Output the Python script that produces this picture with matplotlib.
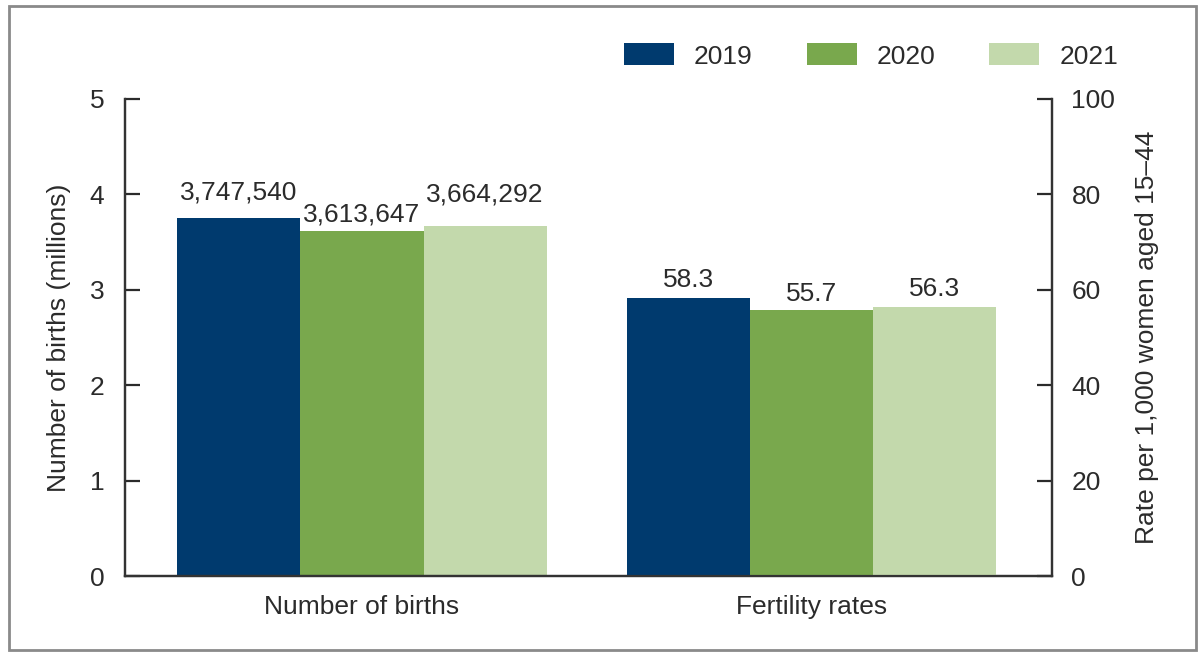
import matplotlib
matplotlib.use("Agg")
import matplotlib.pyplot as plt
from matplotlib.patches import Rectangle
import numpy as np

plt.rcParams['font.family'] = ['Liberation Sans', 'DejaVu Sans']

# Data
categories = ["Number of births", "Fertility rates"]
years = ["2019", "2020", "2021"]
births = [3747540, 3613647, 3664292]          # number of births
fertility_rates = [58.3, 55.7, 56.3]          # per 1,000 women aged 15-44
birth_labels = ["3,747,540", "3,613,647", "3,664,292"]
rate_labels = ["58.3", "55.7", "56.3"]
left_ticks = [0, 1, 2, 3, 4, 5]
right_ticks = [0, 20, 40, 60, 80, 100]

# Styling
colors = ["#003a6e", "#79a84d", "#c3d9ac"]
text_color = "#2b2b2b"
spine_color = "#333333"
fs = 19
bar_w = 0.274
offsets = [-bar_w, 0.0, bar_w]
birth_label_gap = [14, 7, 18]    # points above bar top (baseline)
rate_label_gap = [8, 7, 8]

W, H = 1198, 652
fig = plt.figure(figsize=(W / 100, H / 100), dpi=100)
fig.patch.set_facecolor("white")

ax = fig.add_axes([125 / W, 1 - 576 / H, (1052 - 125) / W, (576 - 99) / H])
ax2 = ax.twinx()

x = np.arange(len(categories))
for i, yr in enumerate(years):
    ax.bar(x[0] + offsets[i], births[i] / 1e6, width=bar_w, color=colors[i],
           label=yr, linewidth=0)
    ax2.bar(x[1] + offsets[i], fertility_rates[i], width=bar_w, color=colors[i],
            linewidth=0)
    ax.annotate(birth_labels[i], (x[0] + offsets[i], births[i] / 1e6),
                xytext=(0, birth_label_gap[i]), textcoords="offset points",
                ha="center", va="baseline", fontsize=fs, color=text_color)
    ax2.annotate(rate_labels[i], (x[1] + offsets[i], fertility_rates[i]),
                 xytext=(0, rate_label_gap[i]), textcoords="offset points",
                 ha="center", va="baseline", fontsize=fs, color=text_color)

ax.set_xlim(-0.527, 1.535)
ax.set_ylim(0, 5)
ax2.set_ylim(0, 100)
ax.set_yticks(left_ticks)
ax2.set_yticks(right_ticks)
ax.set_xticks(x)
ax.set_xticklabels(categories)

for a in (ax, ax2):
    a.spines["top"].set_visible(False)
    for s in ("left", "right", "bottom"):
        a.spines[s].set_color(spine_color)
        a.spines[s].set_linewidth(1.6)
    a.set_facecolor("none")

ax.tick_params(axis="y", direction="in", length=11, width=1.6, pad=15,
               labelsize=fs, colors=text_color)
ax2.tick_params(axis="y", direction="in", length=11, width=1.6, pad=14,
                labelsize=fs, colors=text_color)
ax.tick_params(axis="x", length=0, pad=14, labelsize=fs, colors=text_color)

ax.set_ylabel("Number of births (millions)", fontsize=fs, color=text_color)
ax2.set_ylabel("Rate per 1,000 women aged 15\u201344", fontsize=fs,
               color=text_color)
ax.yaxis.set_label_coords(-0.058, 0.5)
ax2.yaxis.set_label_coords(1.089, 0.5)

handles, labels = ax.get_legend_handles_labels()
leg = fig.legend(handles, labels, ncol=3, frameon=False, fontsize=fs,
                 loc="center right", bbox_to_anchor=(1118 / W, 1 - 56 / H),
                 handlelength=1.9, handleheight=0.9, handletextpad=0.75,
                 columnspacing=2.05, borderpad=0, borderaxespad=0)
for t in leg.get_texts():
    t.set_color(text_color)

# Outer frame
fig.patches.append(Rectangle((9 / W, 1 - 650 / H), (1196 - 9) / W, (650 - 6) / H,
                             transform=fig.transFigure, fill=False,
                             edgecolor="#8a8a8a", linewidth=2))

fig.savefig("out.png", dpi=100, facecolor="white")
